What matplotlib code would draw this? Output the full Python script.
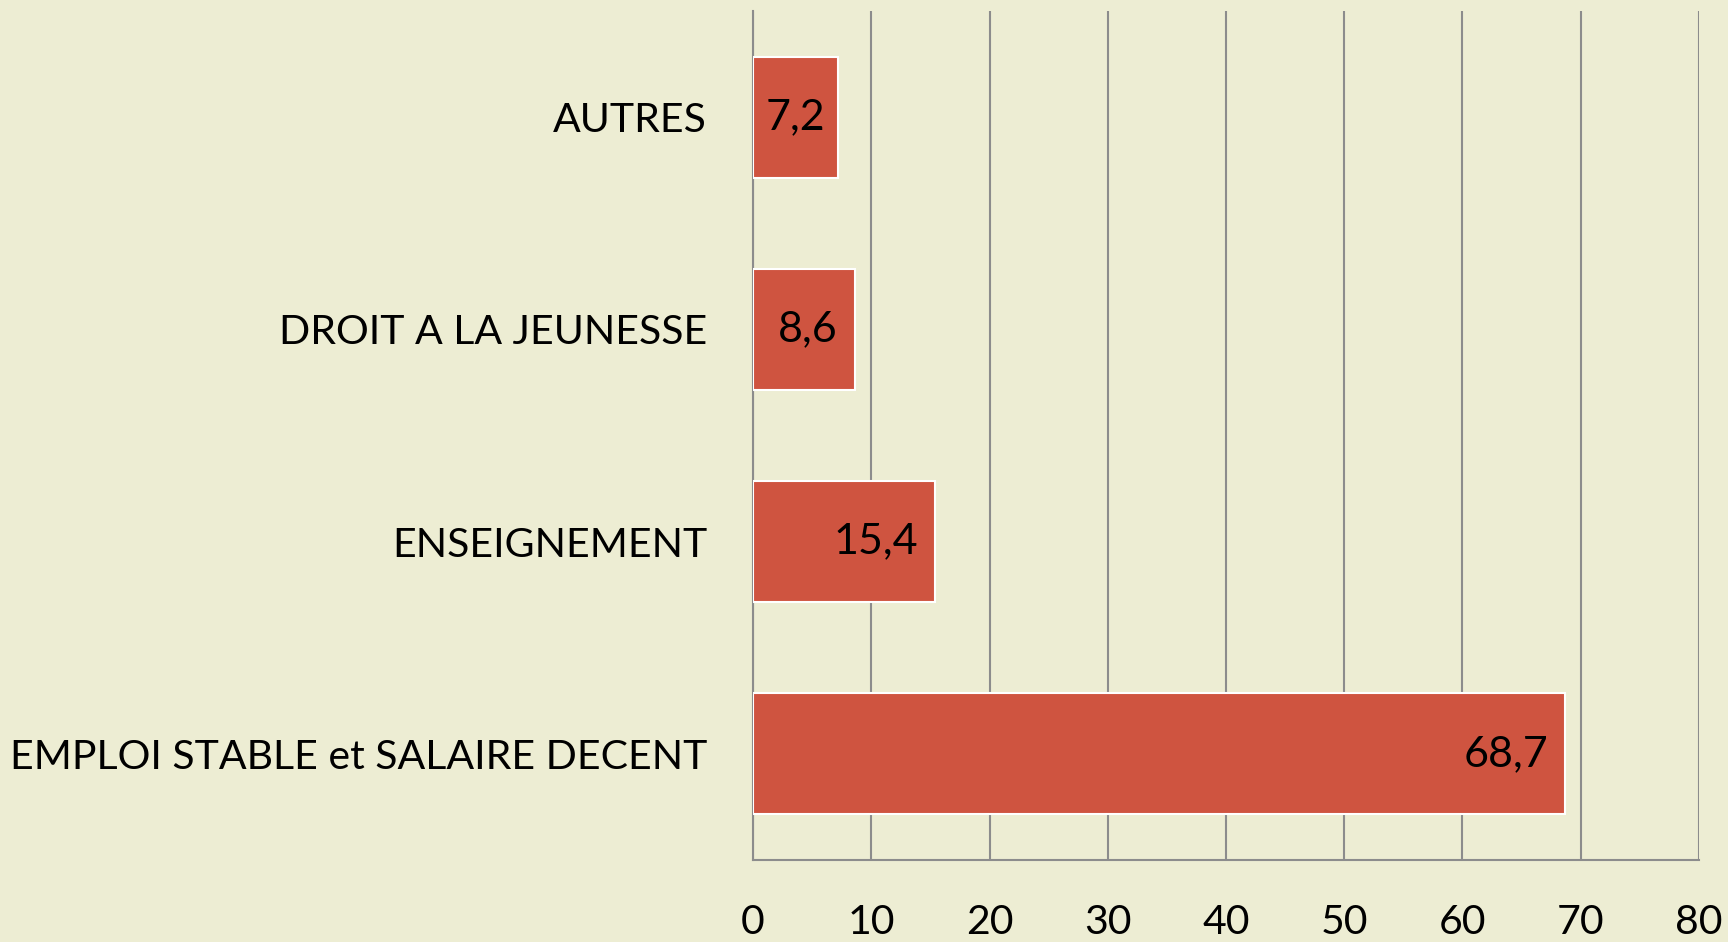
import matplotlib.pyplot as plt
import matplotlib.transforms as mtransforms
import numpy as np

categories = ['EMPLOI STABLE et SALAIRE DECENT', 'ENSEIGNEMENT', 'DROIT A LA JEUNESSE', 'AUTRES']
values = [68.7, 15.4, 8.6, 7.2]
labels = ['68,7', '15,4', '8,6', '7,2']
xticks = [0, 10, 20, 30, 40, 50, 60, 70, 80]

bg = '#EDEDD3'
bar_color = '#CF5440'
grid_color = '#8C8C8C'

plt.rcParams['font.family'] = ['Lato', 'DejaVu Sans']

fig = plt.figure(figsize=(17.28, 9.42), dpi=100, facecolor=bg)
ax = fig.add_axes([0.4358, 0.087, 0.9832 - 0.4358, 0.9883 - 0.087])
ax.set_facecolor(bg)

y = np.arange(len(categories))
ax.barh(y, values, height=0.57, color=bar_color, edgecolor='white', linewidth=1.5, zorder=3)

ax.set_xlim(0, 80)
ax.set_ylim(-0.5, len(categories) - 0.5)
ax.set_xticks(xticks)
ax.set_xticklabels([str(t) for t in xticks])
ax.set_yticks(y)
ax.set_yticklabels(categories)
ax.tick_params(axis='both', length=0, labelsize=29.5)
ax.tick_params(axis='y', pad=33)
ax.tick_params(axis='x', pad=32)

ax.grid(axis='x', color=grid_color, linewidth=1.5, zorder=0)
for s in ['top', 'right']:
    ax.spines[s].set_visible(False)
for s in ['left', 'bottom']:
    ax.spines[s].set_color(grid_color)
    ax.spines[s].set_linewidth(1.5)

# value labels inside the bar end, centred when the bar is short
fig.canvas.draw()
r = fig.canvas.get_renderer()
for yi, v, lab in zip(y, values, labels):
    t = ax.text(v, yi, lab, ha='right', va='center', fontsize=31, zorder=4)
    tw = t.get_window_extent(r).width
    bw = ax.transData.transform((v, 0))[0] - ax.transData.transform((0, 0))[0]
    off = min(17, (bw - tw) / 2)
    t.set_transform(ax.transData + mtransforms.ScaledTranslation(-off / 100, 0, fig.dpi_scale_trans))

fig.savefig('out.png', dpi=100, facecolor=bg)
